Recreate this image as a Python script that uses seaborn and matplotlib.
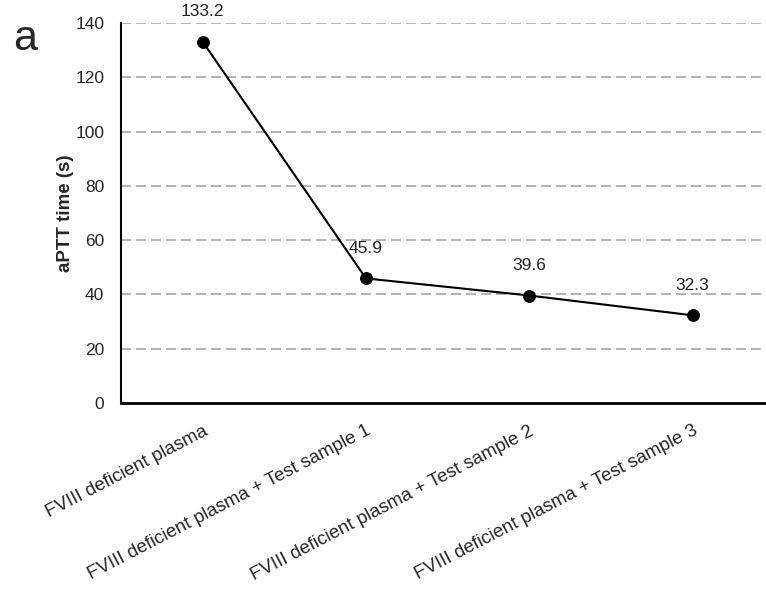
import matplotlib
matplotlib.use('Agg')
import matplotlib.pyplot as plt
import seaborn as sb
import pandas as pd

sb.set_style('white')
plt.rcParams['font.family'] = ['Liberation Sans', 'DejaVu Sans']

groups = ['FVIII deficient plasma',
          'FVIII deficient plasma + Test sample 1',
          'FVIII deficient plasma + Test sample 2',
          'FVIII deficient plasma + Test sample 3']
aptt = [133.2, 45.9, 39.6, 32.3]
y_ticks = [0, 20, 40, 60, 80, 100, 120, 140]

df = pd.DataFrame({'group': groups, 'aptt': aptt})
df['pos'] = range(len(df))

fig = plt.figure(figsize=(7.66, 5.96), dpi=100)
ax = fig.add_axes([0.158, 0.324, 0.842, 0.637])

for t in y_ticks[1:]:
    ax.axhline(t, color='#a6a6a6', linestyle=(0, (6, 3)), linewidth=1.2, zorder=0)

sb.lineplot(data=df, x='pos', y='aptt', color='black', linewidth=1.5,
            marker='o', markersize=8.5, markeredgecolor='black', ax=ax)

for x, v in zip(df['pos'], df['aptt']):
    ax.annotate(f'{v:.1f}', (x, v), xytext=(0, 21.5), textcoords='offset points',
                ha='center', va='center', fontsize=12.5, color='#222222')

ax.set_xlim(-0.5, 3.45)
ax.set_ylim(0, 140)
ax.set_yticks(y_ticks)
ax.set_xticks(df['pos'])
ax.set_xticklabels(groups, rotation=27.5, ha='right', rotation_mode='anchor', fontsize=13.5)
ax.tick_params(axis='y', labelsize=12.5, length=0, pad=12)
ax.tick_params(axis='x', length=0, pad=14)
ax.set_xlabel('')
ax.set_ylabel('aPTT time (s)', fontsize=13.5, fontweight='bold', labelpad=1)

for s in ['top', 'right']:
    ax.spines[s].set_visible(False)
ax.spines['left'].set_color('black')
ax.spines['left'].set_linewidth(1.5)
ax.spines['bottom'].set_color('black')
ax.spines['bottom'].set_linewidth(2)

fig.text(0.017, 0.916, 'a', fontsize=31, va='baseline')

fig.savefig('out.png', dpi=100)
